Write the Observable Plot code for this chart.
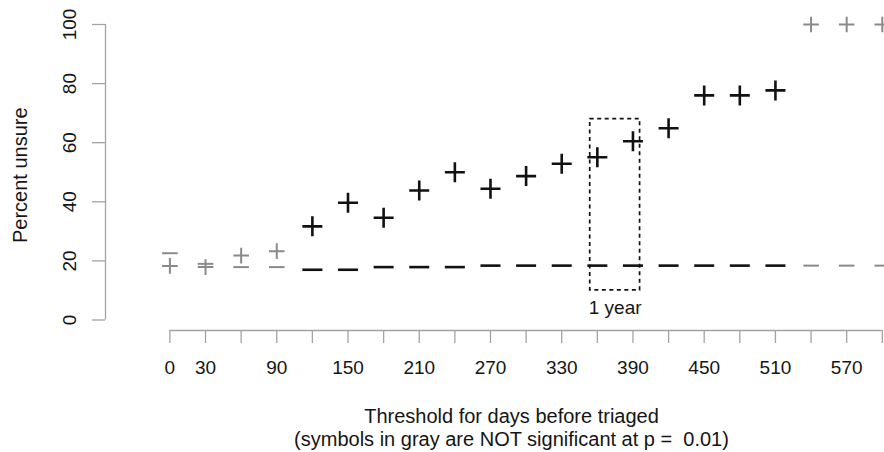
<!DOCTYPE html>
<html>
<head>
<meta charset="utf-8">
<script src="https://cdn.jsdelivr.net/npm/d3@7"></script>
<script src="https://cdn.jsdelivr.net/npm/@observablehq/plot@0.6"></script>
<style>
  html, body { margin: 0; padding: 0; background: #fff; }
</style>
</head>
<body>
<div id="chart"></div>
<script>
// ---- data ----
const days = [0, 30, 60, 90, 120, 150, 180, 210, 240, 270, 300, 330, 360, 390, 420, 450, 480, 510, 540, 570, 600];
const percentUnsure = [18.3, 17.9, 21.8, 23.3, 31.7, 39.7, 34.6, 43.8, 50.0, 44.4, 48.7, 52.9, 55.1, 60.5, 64.9, 76.0, 76.0, 77.7, 100, 100, 100];
const baselinePct = [22.6, 19.0, 17.9, 17.9, 17.0, 17.0, 17.9, 17.9, 17.9, 18.4, 18.4, 18.4, 18.4, 18.4, 18.4, 18.4, 18.4, 18.4, 18.4, 18.4, 18.4];
const significant = [false, false, false, false, true, true, true, true, true, true, true, true, true, true, true, true, true, true, false, false, false];

const xTicks = [0, 30, 60, 90, 120, 150, 180, 210, 240, 270, 300, 330, 360, 390, 420, 450, 480, 510, 540, 570, 600];
const xTickLabels = [0, 30, 90, 150, 210, 270, 330, 390, 450, 510, 570];
const yTicks = [0, 20, 40, 60, 80, 100];

const boxDays = [354, 396];
const boxPct = [10, 68];
const boxLabel = "1 year";

const yTitle = "Percent unsure";
const xTitle = "Threshold for days before triaged";
const xSubtitle = "(symbols in gray are NOT significant at p =  0.01)";

// ---- build rows ----
const rows = days.map((d, i) => ({day: d, pct: percentUnsure[i], base: baselinePct[i], sig: significant[i]}));

// ---- styles ----
const axisColor = "#a3a3a3";
const textColor = "#151515";
const sigColor = "#111111";
const nsColor = "#8a8a8a";

const plusSymbol = {
  draw(ctx, size) {
    const r = Math.sqrt(size / Math.PI);
    ctx.moveTo(-r, 0); ctx.lineTo(r, 0);
    ctx.moveTo(0, -r); ctx.lineTo(0, r);
  }
};
const dashSymbol = {
  draw(ctx, size) {
    const r = Math.sqrt(size / Math.PI);
    ctx.moveTo(-r, 0); ctx.lineTo(r, 0);
  }
};

const chart = Plot.plot({
  width: 884,
  height: 452,
  marginLeft: 169.4,
  marginRight: 2.2,
  marginTop: 24,
  marginBottom: 132.5,
  x: {domain: [0, 600], label: null},
  y: {domain: [0, 100], label: null},
  style: {fontFamily: "'Liberation Sans', Arial, Helvetica, sans-serif", fontSize: "19px", background: "#fff", color: textColor},
  marks: [
    // axes
    Plot.ruleX([0], {y1: d3.min(yTicks), y2: d3.max(yTicks), dx: -64.4, stroke: axisColor, strokeWidth: 1.3}),
    Plot.axisY(yTicks, {tickSize: 13, tickPadding: 16, tickRotate: -90, dx: -64.4, stroke: axisColor, strokeWidth: 1.3, fill: textColor, fontSize: 19, label: null}),
    Plot.ruleY([0], {x1: d3.min(xTicks), x2: d3.max(xTicks), dy: 10.5, stroke: axisColor, strokeWidth: 1.3}),
    Plot.axisX(xTicks, {tickSize: 13, tickPadding: 17, dy: 10.5, stroke: axisColor, strokeWidth: 1.3, fill: textColor, fontSize: 19,
      tickFormat: d => xTickLabels.includes(d) ? String(d) : "", label: null}),
    // titles
    Plot.text([yTitle], {frameAnchor: "left", text: d => d, rotate: -90, dx: -142.7, dy: 3, textAnchor: "middle", lineAnchor: "bottom", fontSize: 20, fill: textColor}),
    Plot.text([xTitle + "\n" + xSubtitle], {frameAnchor: "bottom", text: d => d, dx: -14.6, dy: 125.5, textAnchor: "middle", lineAnchor: "bottom", lineHeight: 1.15, fontSize: 20, fill: textColor}),
    // 1-year box
    Plot.rect([boxLabel], {x1: boxDays[0], x2: boxDays[1], y1: boxPct[0], y2: boxPct[1], fill: "none", stroke: sigColor, strokeWidth: 1.7, strokeDasharray: "4,3.5"}),
    Plot.text([boxLabel], {x: d3.mean(boxDays), y: boxPct[0], text: d => d, lineAnchor: "top", dy: 10, fontSize: 19, fill: textColor}),
    // dashes (reference level)
    Plot.dot(rows, {filter: d => !d.sig, x: "day", y: "base", symbol: dashSymbol, r: 7.8, fill: "none", stroke: nsColor, strokeWidth: 2}),
    Plot.dot(rows, {filter: d => d.sig, x: "day", y: "base", symbol: dashSymbol, r: 10, fill: "none", stroke: sigColor, strokeWidth: 2.6}),
    // plus symbols
    Plot.dot(rows, {filter: d => !d.sig, x: "day", y: "pct", symbol: plusSymbol, r: 7.8, fill: "none", stroke: nsColor, strokeWidth: 2}),
    Plot.dot(rows, {filter: d => d.sig, x: "day", y: "pct", symbol: plusSymbol, r: 10, fill: "none", stroke: sigColor, strokeWidth: 2.6})
  ]
});

document.getElementById("chart").appendChild(chart);
</script>
</body>
</html>
